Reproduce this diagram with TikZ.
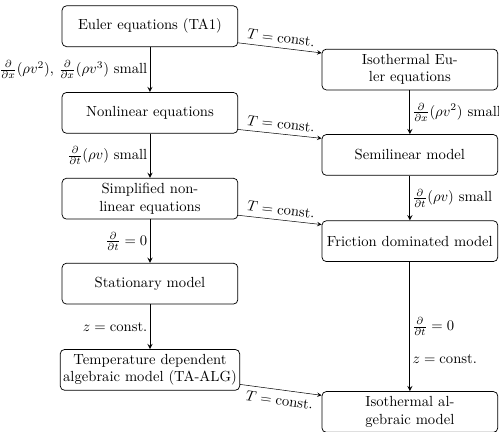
\documentclass[tikz,border=0pt]{standalone}
\usepackage{amssymb}
\usepackage{amsmath}
\usepackage{tikz}

\begin{document}
\begin{tikzpicture}[>=stealth,
    model/.style={draw, rounded corners=3pt, line width=0.5pt, minimum width=4.22cm,
        minimum height=0.98cm, inner sep=2pt, align=center},
    simplify/.style={->, line width=0.6pt},
    isotherm/.style={->, line width=0.35pt},
    cond/.style={inner sep=1.5pt}]
            \useasboundingbox (0,0) rectangle (11.98,10.37);
            % left column
            \node[model] (euler) at (3.6,9.74) {Euler equations (TA1)};
            \node[model] (nonlin) at (3.6,7.66) {Nonlinear equations};
            \node[model] (simpl) at (3.6,5.60) {Simplified non-\\linear equations};
            \node[model] (stat) at (3.6,3.56) {Stationary model};
            \node[model] (talg) at (3.6,1.49) {Temperature dependent\\algebraic model (TA-ALG)};
            % right column
            \node[model] (isoeuler) at (9.84,8.70) {Isothermal Eu-\\ler equations};
            \node[model] (semilin) at (9.84,6.65) {Semilinear model};
            \node[model] (frict) at (9.84,4.58) {Friction dominated model};
            \node[model] (isoalg) at (9.84,0.48) {Isothermal al-\\gebraic model};
            % simplifications, left
            \draw[simplify] (euler) -- (nonlin)
                node[cond, midway, left] {$\frac{\partial}{\partial x}(\rho v^2)$, $\frac{\partial}{\partial x}(\rho v^3)$ small};
            \draw[simplify] (nonlin) -- (simpl)
                node[cond, midway, left] {$\frac{\partial}{\partial t}(\rho v)$ small};
            \draw[simplify] (simpl) -- (stat) node[cond, midway, left] {$\frac{\partial}{\partial t} = 0$};
            \draw[simplify] (stat) -- (talg) node[cond, midway, left] {$z = \text{const.}$};
            % simplifications, right
            \draw[simplify] (isoeuler) -- (semilin)
                node[cond, midway, right] {$\frac{\partial}{\partial x}(\rho v^2)$ small};
            \draw[simplify] (semilin) -- (frict)
                node[cond, midway, right] {$\frac{\partial}{\partial t}(\rho v)$ small};
            \draw[simplify] (frict) -- (isoalg)
                node[cond, pos=0.5, right] {$\frac{\partial}{\partial t} = 0$}
                node[cond, pos=0.75, right] {$z = \text{const.}$};
            % isothermal
            \draw[isotherm] ([yshift=0.1cm]euler.south east) -- ([yshift=-0.1cm]isoeuler.north west)
                node[midway, above, sloped] {$T = \text{const.}$};
            \draw[isotherm] ([yshift=0.1cm]nonlin.south east) -- ([yshift=-0.1cm]semilin.north west)
                node[midway, above, sloped] {$T = \text{const.}$};
            \draw[isotherm] ([yshift=0.1cm]simpl.south east) -- ([yshift=-0.1cm]frict.north west)
                node[midway, above, sloped] {$T = \text{const.}$};
            \draw[isotherm] ([yshift=0.15cm]talg.south east) -- ([yshift=-0.1cm]isoalg.north west)
                node[midway, below, sloped] {$T = \text{const.}$};
        \end{tikzpicture}
\end{document}
